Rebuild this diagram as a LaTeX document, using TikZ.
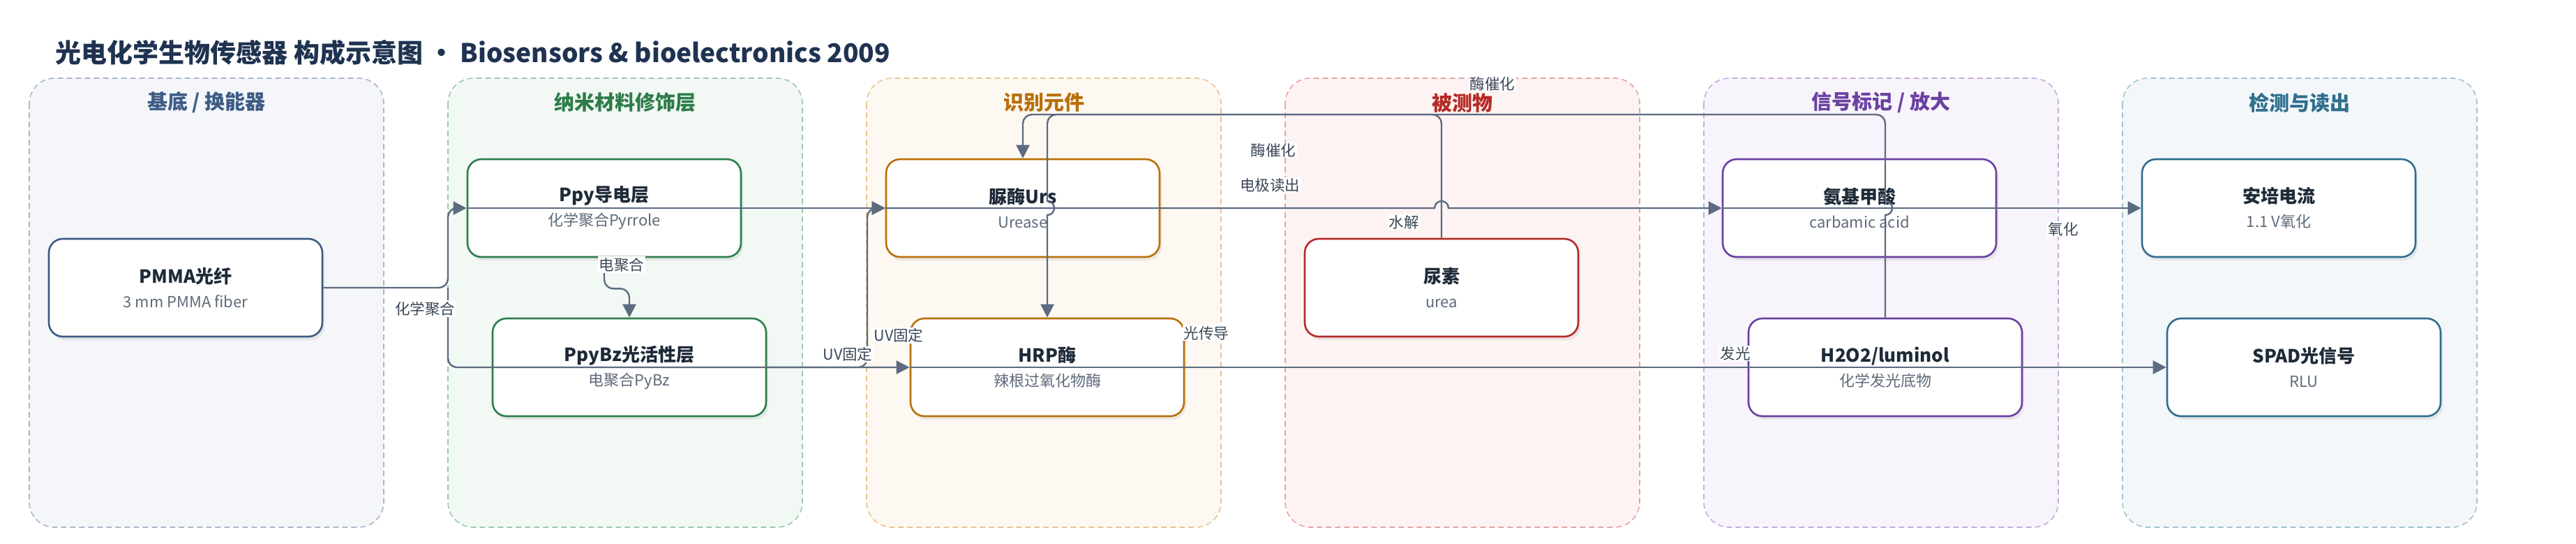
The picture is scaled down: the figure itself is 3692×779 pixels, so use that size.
\documentclass[tikz,border=0pt]{standalone}
\usepackage{fontspec}
\setmainfont{Noto Sans CJK SC}
\usetikzlibrary{arrows.meta,shadows}

\definecolor{titleink}{HTML}{1F3351}
\definecolor{nodeink}{HTML}{1E2A38}
\definecolor{subink}{HTML}{5E6B7A}
\definecolor{labink}{HTML}{3A4757}
\definecolor{linkc}{HTML}{5C6B80}
% group colours: title/node border, fill, dashed frame
\definecolor{gac}{HTML}{3E5C85}\definecolor{gaf}{HTML}{F4F6FA}\definecolor{gal}{HTML}{A9B6C9}
\definecolor{gbc}{HTML}{2E7D4B}\definecolor{gbf}{HTML}{F2F8F4}\definecolor{gbl}{HTML}{9DC9AC}
\definecolor{gcc}{HTML}{B8700A}\definecolor{gcf}{HTML}{FDF8F1}\definecolor{gcl}{HTML}{E9C48F}
\definecolor{gdc}{HTML}{B52A27}\definecolor{gdf}{HTML}{FDF3F3}\definecolor{gdl}{HTML}{E8A3A3}
\definecolor{gec}{HTML}{6A40A0}\definecolor{gef}{HTML}{F7F4FB}\definecolor{gel}{HTML}{C6ACE2}
\definecolor{gfc}{HTML}{2F6E8E}\definecolor{gff}{HTML}{F3F7F9}\definecolor{gfl}{HTML}{A3C2D2}

\newcommand{\boxtxt}[2]{{\fontsize{26}{30}\selectfont\bfseries\color{nodeink}#1}\\{\color{subink}#2}}

\begin{document}
\begin{tikzpicture}[x=1pt,y=1pt,yscale=-1,
  grp/.style={dash pattern=on 8pt off 5pt,line width=1.6pt,rounded corners=36pt},
  gtitle/.style={font=\fontsize{29}{34}\selectfont\bfseries},
  nodebox/.style={draw=#1,line width=2.6pt,fill=white,rounded corners=20pt,
    minimum width=392pt,minimum height=140pt,align=center,
    font=\fontsize{22}{35}\selectfont,
    drop shadow={shadow xshift=3pt,shadow yshift=-5pt,opacity=0.14}},
  conn/.style={draw=linkc,line width=2.4pt},
  arrowed/.style={-{Triangle[length=19pt,width=19pt]}},
  elab/.style={fill=white,inner sep=1.5pt,text=labink,font=\fontsize{21.5}{24}\selectfont}]

\path[fill=white] (0,0) rectangle (3692,779);
\useasboundingbox (0,0) rectangle (3692,779);

% Text Node
\draw (76,75) node [anchor=west,text=titleink,font=\fontsize{37}{42}\selectfont\bfseries] (title) {光电化学生物传感器 构成示意图 • Biosensors \& bioelectronics 2009};

%Shape: Rounded Rect
\draw [grp,draw=gal,fill=gaf] (42,112) rectangle (550,755) ;
\draw [grp,draw=gbl,fill=gbf] (642,112) rectangle (1150,755) ;
\draw [grp,draw=gcl,fill=gcf] (1242,112) rectangle (1750,755) ;
\draw [grp,draw=gdl,fill=gdf] (1842,112) rectangle (2350,755) ;
\draw [grp,draw=gel,fill=gef] (2442,112) rectangle (2950,755) ;
\draw [grp,draw=gfl,fill=gff] (3042,112) rectangle (3550,755) ;

% Text Node
\draw (296,147) node [gtitle,text=gac] (ta) {基底 / 换能器};
\draw (896,147) node [gtitle,text=gbc] (tb) {纳米材料修饰层};
\draw (1496,147) node [gtitle,text=gcc] (tc) {识别元件};
\draw (2096,147) node [gtitle,text=gdc] (td) {被测物};
\draw (2696,147) node [gtitle,text=gec] (te) {信号标记 / 放大};
\draw (3296,147) node [gtitle,text=gfc] (tf) {检测与读出};

%Shape: Rounded Rect
\draw (266,412) node [nodebox=gac] (pmma) {\boxtxt{PMMA光纤}{3 mm PMMA fiber}};
\draw (866,298) node [nodebox=gbc] (ppy) {\boxtxt{Ppy导电层}{化学聚合Pyrrole}};
\draw (902,526) node [nodebox=gbc] (ppybz) {\boxtxt{PpyBz光活性层}{电聚合PyBz}};
\draw (1466,298) node [nodebox=gcc] (urs) {\boxtxt{脲酶Urs}{Urease}};
\draw (1501,526) node [nodebox=gcc] (hrp) {\boxtxt{HRP酶}{辣根过氧化物酶}};
\draw (2066,412) node [nodebox=gdc] (urea) {\boxtxt{尿素}{urea}};
\draw (2665,298) node [nodebox=gec] (carb) {\boxtxt{氨基甲酸}{carbamic acid}};
\draw (2702,526) node [nodebox=gec] (lum) {\boxtxt{H2O2/luminol}{化学发光底物}};
\draw (3266,298) node [nodebox=gfc] (amp) {\boxtxt{安培电流}{1.1 V氧化}};
\draw (3302,526) node [nodebox=gfc] (spad) {\boxtxt{SPAD光信号}{RLU}};

\coordinate (fork) at (642,412);
\coordinate (uvturn) at (1243,526);

%Straight Lines
\draw [conn,arrowed,rounded corners=13pt] (pmma.east) -- (fork) |- (ppy.west) ;
\draw [conn,arrowed,rounded corners=13pt] (fork) |- (hrp.west) ;
\draw [conn,arrowed,rounded corners=13pt] (ppybz.east) -- (uvturn) |- (urs.west) ;
\draw [conn,arrowed] (ppy.west) -- (urs.west) ;
\draw [conn,arrowed,rounded corners=13pt] (ppy.south) -- ++(0,44) -| (ppybz.north) ;
\draw [conn,arrowed] (urs.west) -- (2056,298) arc [start angle=180,end angle=360,radius=10] -- (carb.west) ;
\draw [conn,arrowed] (carb.west) -- (amp.west) ;
\draw [conn,arrowed] (hrp.west) -- (spad.west) ;
\draw [conn,arrowed] (urea.north) -- (2066,177) arc [start angle=0,end angle=-90,radius=13] -- (1479,164) arc [start angle=-90,end angle=-180,radius=13] -- (urs.north) ;
\draw [conn,arrowed] (lum.north) -- (2702,308) arc [start angle=90,end angle=-90,radius=10] -- (2702,177) arc [start angle=0,end angle=-90,radius=13] -- (1514,164) arc [start angle=-90,end angle=-180,radius=13] -- (1501,288) arc [start angle=-90,end angle=90,radius=10] -- (hrp.north) ;

% Text Node
\draw (609,442) node [elab] (l1) {化学聚合};
\draw (891,379) node [elab] (l2) {电聚合};
\draw (1215,507) node [elab] (l3) {UV固定};
\draw (1288,480) node [elab] (l4) {UV固定};
\draw (1825,215) node [elab] (l5) {酶催化};
\draw (1820,265) node [elab] (l6) {电极读出};
\draw (2012,318) node [elab] (l7) {水解};
\draw (2139,120) node [elab] (l8) {酶催化};
\draw (1729,477) node [elab] (l9) {光传导};
\draw (2487,506) node [elab] (l10) {发光};
\draw (2957,328) node [elab] (l11) {氧化};

\end{tikzpicture}
\end{document}
